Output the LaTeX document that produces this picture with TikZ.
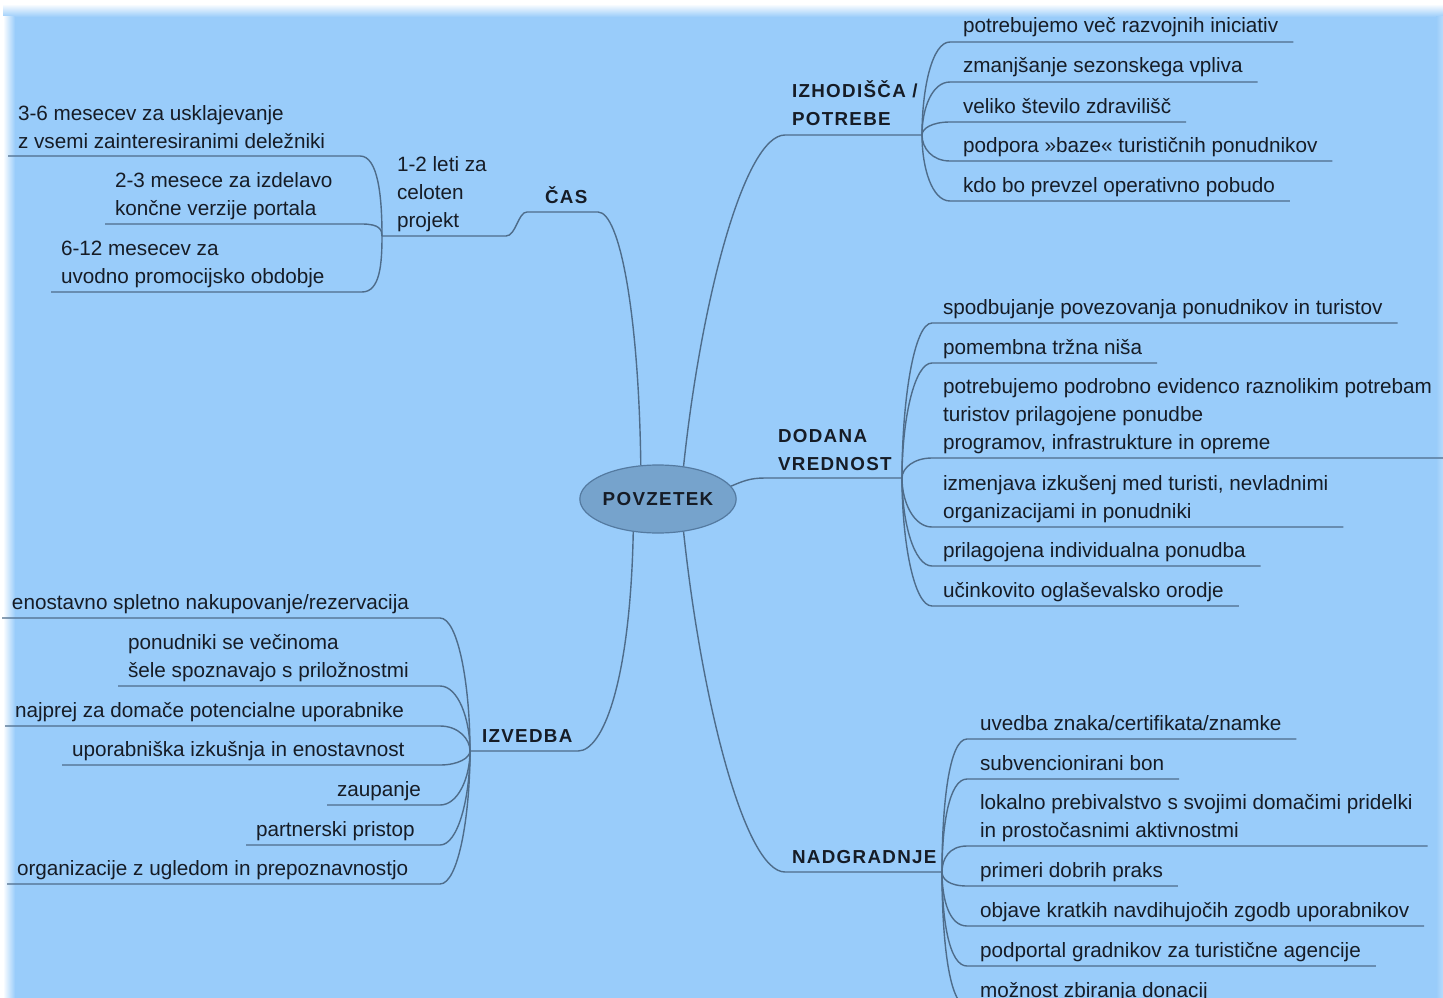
\documentclass[tikz,border=0pt]{standalone}
\usepackage{fontspec}
\setmainfont{Liberation Sans}
\newfontfamily\lblfont[LetterSpace=7]{Liberation Sans}
\usetikzlibrary{shapes.geometric,calc}
\definecolor{bgblue}{RGB}{153,204,250}
\definecolor{linec}{RGB}{78,108,138}
\definecolor{rootfill}{RGB}{118,163,204}
\definecolor{rootdraw}{RGB}{84,122,160}
\definecolor{txt}{RGB}{22,28,38}
\newcommand\mmL[3]{\draw[br] (#1) .. controls ($(#1)!0.5!(#1|-#2)$) and ($(#2)+(18,0)$) .. (#2) -- ($(#2-|#3.west)+(-10,0)$);}
\newcommand\mmR[3]{\draw[br] (#1) .. controls ($(#1)!0.5!(#1|-#2)$) and ($(#2)+(-18,0)$) .. (#2) -- ($(#2-|#3.east)+(15,0)$);}
\begin{document}
\begin{tikzpicture}[x=1pt,y=-1pt,
  br/.style={draw=linec,line width=1.4pt},
  leaf/.style={anchor=base west,inner sep=0pt,outer sep=0pt,text=txt,
    font=\fontsize{20.7}{28}\selectfont,align=left},
  lbl/.style={anchor=base west,inner sep=0pt,outer sep=0pt,text=txt,
    font=\lblfont\bfseries\fontsize{18.8}{27.5}\selectfont,align=left},
  rootnode/.style={ellipse,draw=rootdraw,fill=rootfill,line width=1.2pt,
    minimum width=155pt,minimum height=68pt,inner sep=0pt,text=txt,
    font=\lblfont\bfseries\fontsize{18.8}{22}\selectfont}]
\useasboundingbox (0,0) rectangle (1443,998);
% background
\fill[bgblue] (0,0) rectangle (1443,998);
\shade[top color=white,bottom color=bgblue] (0,4) rectangle (1443,17);
\shade[left color=white,right color=bgblue] (3,17) rectangle (15,998);
\shade[left color=bgblue,right color=bgblue!70!white] (1436,17) rectangle (1443,998);
\fill[white] (0,0) rectangle (1443,4);
\fill[white] (0,0) rectangle (3,998);

% centre
\node[rootnode] (c) at (658,499) {POVZETEK};

% ---------- CAS ----------
\node[lbl] (cas) at (545,203) {ČAS};
\coordinate (casR) at (598,212);
\coordinate (casL) at (527,212);
\draw[br] (c.117) .. controls +(-2,-150) and +(22,0) .. (casR) -- (casL);

\node[leaf] (leti) at (397,227) {1-2 leti za\\celoten\\projekt};
\coordinate (letiR) at (506,236);
\coordinate (f0) at (382,236);
\draw[br] (casL) .. controls +(-9,0) and +(10,0) .. (letiR) -- (f0);

\node[leaf] (a1) at (18,148) {3-6 mesecev za usklajevanje\\z vsemi zainteresiranimi deležniki};
\node[leaf] (a2) at (115,215) {2-3 mesece za izdelavo\\končne verzije portala};
\node[leaf] (a3) at (61,283) {6-12 mesecev za\\uvodno promocijsko obdobje};
\coordinate (ua1) at (360,156);
\coordinate (ua2) at (362,224);
\coordinate (ua3) at (362,292);
\mmL{f0}{ua1}{a1}
\mmL{f0}{ua2}{a2}
\mmL{f0}{ua3}{a3}

% ---------- IZHODISCA ----------
\node[lbl] (izh) at (792,125) {IZHODIŠČA /\\POTREBE};
\coordinate (izhL) at (785,135);
\coordinate (f1) at (922,135);
\draw[br] (c.52) .. controls +(18,-170) and +(-40,0) .. (izhL) -- (f1);

\node[leaf] (b1) at (963,33) {potrebujemo več razvojnih iniciativ};
\node[leaf] (b2) at (963,73) {zmanjšanje sezonskega vpliva};
\node[leaf] (b3) at (963,113) {veliko število zdravilišč};
\node[leaf] (b4) at (963,152) {podpora »baze« turističnih ponudnikov};
\node[leaf] (b5) at (963,192) {kdo bo prevzel operativno pobudo};
\coordinate (ub1) at (950,42);
\coordinate (ub2) at (950,82);
\coordinate (ub3) at (950,122);
\coordinate (ub4) at (950,161);
\coordinate (ub5) at (950,201);
\mmR{f1}{ub1}{b1}
\mmR{f1}{ub2}{b2}
\mmR{f1}{ub3}{b3}
\mmR{f1}{ub4}{b4}
\mmR{f1}{ub5}{b5}

% ---------- DODANA VREDNOST ----------
\node[lbl] (dod) at (778,470) {DODANA\\VREDNOST};
\coordinate (dodL) at (765,478);
\coordinate (f2) at (902,478);
\draw[br] (c.10) .. controls +(12,-5) and +(-15,0) .. (dodL) -- (f2);

\node[leaf] (d1) at (943,314) {spodbujanje povezovanja ponudnikov in turistov};
\node[leaf] (d2) at (943,354) {pomembna tržna niša};
\node[leaf] (d3) at (943,449) {potrebujemo podrobno evidenco raznolikim potrebam\\turistov prilagojene ponudbe\\programov, infrastrukture in opreme};
\node[leaf] (d4) at (943,518) {izmenjava izkušenj med turisti, nevladnimi\\organizacijami in ponudniki};
\node[leaf] (d5) at (943,557) {prilagojena individualna ponudba};
\node[leaf] (d6) at (943,597) {učinkovito oglaševalsko orodje};
\coordinate (ud1) at (932,323);
\coordinate (ud2) at (932,363);
\coordinate (ud3) at (932,458);
\coordinate (ud4) at (932,527);
\coordinate (ud5) at (932,566);
\coordinate (ud6) at (932,606);
\mmR{f2}{ud1}{d1}
\mmR{f2}{ud2}{d2}
\mmR{f2}{ud3}{d3}
\mmR{f2}{ud4}{d4}
\mmR{f2}{ud5}{d5}
\mmR{f2}{ud6}{d6}

% ---------- NADGRADNJE ----------
\node[lbl] (nad) at (792,863) {NADGRADNJE};
\coordinate (nadL) at (785,872);
\coordinate (f3) at (942,872);
\draw[br] (c.-52) .. controls +(18,170) and +(-40,0) .. (nadL) -- (f3);

\node[leaf] (n1) at (980,730) {uvedba znaka/certifikata/znamke};
\node[leaf] (n2) at (980,770) {subvencionirani bon};
\node[leaf] (n3) at (980,837) {lokalno prebivalstvo s svojimi domačimi pridelki\\in prostočasnimi aktivnostmi};
\node[leaf] (n4) at (980,877) {primeri dobrih praks};
\node[leaf] (n5) at (980,917) {objave kratkih navdihujočih zgodb uporabnikov};
\node[leaf] (n6) at (980,957) {podportal gradnikov za turistične agencije};
\node[leaf] (n7) at (980,997) {možnost zbiranja donacij};
\coordinate (un1) at (967,739);
\coordinate (un2) at (967,779);
\coordinate (un3) at (967,846);
\coordinate (un4) at (967,886);
\coordinate (un5) at (967,926);
\coordinate (un6) at (967,966);
\coordinate (un7) at (967,1006);
\mmR{f3}{un1}{n1}
\mmR{f3}{un2}{n2}
\mmR{f3}{un3}{n3}
\mmR{f3}{un4}{n4}
\mmR{f3}{un5}{n5}
\mmR{f3}{un6}{n6}
\mmR{f3}{un7}{n7}

% ---------- IZVEDBA ----------
\node[lbl] (izv) at (482,742) {IZVEDBA};
\coordinate (izvR) at (578,751);
\coordinate (f4) at (470,751);
\draw[br] (c.233) .. controls +(-3,150) and +(25,0) .. (izvR) -- (f4);

\node[leaf] (e1) at (12,609) {enostavno spletno nakupovanje/rezervacija};
\node[leaf] (e2) at (128,677) {ponudniki se večinoma\\šele spoznavajo s priložnostmi};
\node[leaf] (e3) at (15,717) {najprej za domače potencialne uporabnike};
\node[leaf] (e4) at (72,756) {uporabniška izkušnja in enostavnost};
\node[leaf] (e5) at (337,796) {zaupanje};
\node[leaf] (e6) at (256,836) {partnerski pristop};
\node[leaf] (e7) at (17,875) {organizacije z ugledom in prepoznavnostjo};
\coordinate (ue1) at (440,618);
\coordinate (ue2) at (440,686);
\coordinate (ue3) at (440,726);
\coordinate (ue4) at (440,765);
\coordinate (ue5) at (440,805);
\coordinate (ue6) at (440,845);
\coordinate (ue7) at (440,884);
\mmL{f4}{ue1}{e1}
\mmL{f4}{ue2}{e2}
\mmL{f4}{ue3}{e3}
\mmL{f4}{ue4}{e4}
\mmL{f4}{ue5}{e5}
\mmL{f4}{ue6}{e6}
\mmL{f4}{ue7}{e7}
\end{tikzpicture}
\end{document}
